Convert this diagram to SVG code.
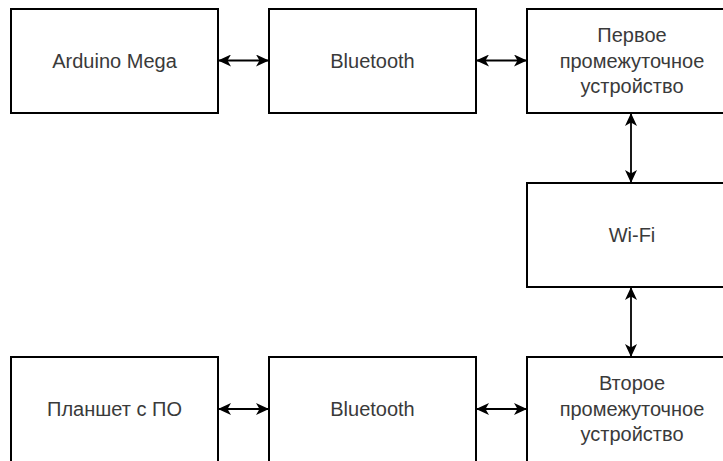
<svg xmlns="http://www.w3.org/2000/svg" width="723" height="461" viewBox="0 0 723 461">
<style>
.box{fill:#fff;stroke:#000;stroke-width:2}
.lbl{font-family:"Liberation Sans",Arial,sans-serif;font-size:20px;fill:#3a3a3a;text-anchor:middle}
.conn{stroke:#000;stroke-width:1.8;fill:none}
</style>
<defs>
<marker id="ah" viewBox="0 0 13 12" refX="12" refY="6" markerWidth="13" markerHeight="12" markerUnits="userSpaceOnUse" orient="auto-start-reverse">
<path d="M0,0 L13,6 L0,12 L3.5,6 Z" fill="#000"/>
</marker>
</defs>
<rect width="723" height="461" fill="#fff"/>
<g id="arduino"><rect class="box" x="11" y="9" width="207" height="104"/><text class="lbl" x="114.5" y="68">Arduino Mega</text></g>
<g id="bt1"><rect class="box" x="269" y="9" width="207" height="104"/><text class="lbl" x="372.5" y="68">Bluetooth</text></g>
<g id="dev1"><rect class="box" x="527" y="9" width="207" height="104"/><text class="lbl" x="632" y="42">Первое</text><text class="lbl" x="632" y="68">промежуточное</text><text class="lbl" x="632" y="93">устройство</text></g>
<g id="wifi"><rect class="box" x="527" y="183" width="207" height="104"/><text class="lbl" x="632" y="242">Wi-Fi</text></g>
<g id="tablet"><rect class="box" x="11" y="357" width="207" height="110"/><text class="lbl" x="114.5" y="416">Планшет с ПО</text></g>
<g id="bt2"><rect class="box" x="269" y="357" width="207" height="110"/><text class="lbl" x="372.5" y="416">Bluetooth</text></g>
<g id="dev2"><rect class="box" x="527" y="357" width="207" height="110"/><text class="lbl" x="632" y="390">Второе</text><text class="lbl" x="632" y="416">промежуточное</text><text class="lbl" x="632" y="441">устройство</text></g>
<g id="connectors">
<line class="conn" x1="219" y1="60.5" x2="268" y2="60.5" marker-start="url(#ah)" marker-end="url(#ah)"/>
<line class="conn" x1="477" y1="60.5" x2="526" y2="60.5" marker-start="url(#ah)" marker-end="url(#ah)"/>
<line class="conn" x1="631" y1="114" x2="631" y2="182" marker-start="url(#ah)" marker-end="url(#ah)"/>
<line class="conn" x1="631" y1="288" x2="631" y2="356" marker-start="url(#ah)" marker-end="url(#ah)"/>
<line class="conn" x1="219" y1="409" x2="268" y2="409" marker-start="url(#ah)" marker-end="url(#ah)"/>
<line class="conn" x1="477" y1="409" x2="526" y2="409" marker-start="url(#ah)" marker-end="url(#ah)"/>
</g>
</svg>
